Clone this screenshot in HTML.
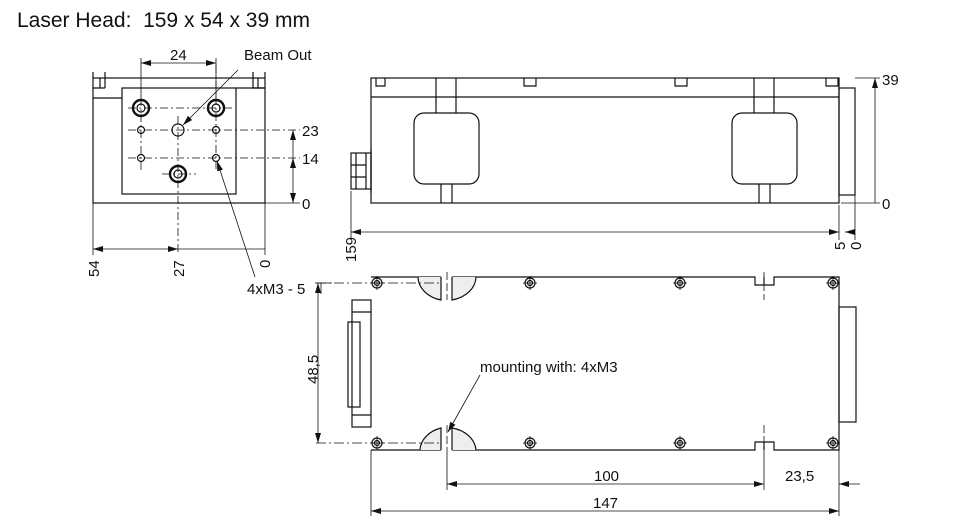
<!DOCTYPE html>
<html><head><style>body{margin:0;background:#fff}svg{display:block}text{font-family:"Liberation Sans",sans-serif;fill:#111;white-space:pre}</style></head>
<body>
<svg width="960" height="531" viewBox="0 0 960 531" xmlns="http://www.w3.org/2000/svg">
<defs>
<marker id="a" viewBox="0 0 10 6" refX="10" refY="3" markerWidth="10" markerHeight="6" orient="auto-start-reverse" markerUnits="userSpaceOnUse"><path d="M0,0L10,3L0,6z" fill="#111"/></marker>
</defs>
<text x="17" y="27" font-size="21" xml:space="preserve">Laser Head:  159 x 54 x 39 mm</text>

<g stroke="#111" fill="none" stroke-width="1.2">
<!-- FRONT VIEW -->
<rect x="93" y="78" width="172" height="125"/>
<path d="M93,72V78M105,72V88M93,88H105M100,78V88M253,72V88M265,72V78M253,88H265M258,78V88"/>
<path d="M93,98H122M236,88H265"/>
<rect x="122" y="88" width="114" height="106"/>
<g stroke-width="2.4"><circle cx="141" cy="108" r="8"/><circle cx="216" cy="108" r="8"/><circle cx="178" cy="174" r="8"/></g>
<circle cx="141" cy="108" r="4"/><circle cx="216" cy="108" r="4"/><circle cx="178" cy="174" r="4"/>
<circle cx="178" cy="130" r="6"/>
<circle cx="141" cy="130" r="3.5"/><circle cx="216" cy="130" r="3.5"/><circle cx="141" cy="158" r="3.5"/><circle cx="216" cy="158" r="3.5"/>
<g stroke-width="0.8" stroke-dasharray="8,3,2,3">
<path d="M128,130H300M128,158H300M128,108H232M162,174H196M141,98V170M216,65V170M178,116V252"/>
</g>
<g stroke-width="0.8">
<path d="M141,58V98M216,58V98"/>
<path d="M141,63H216" marker-start="url(#a)" marker-end="url(#a)"/>
<path d="M238,70L183,125" marker-end="url(#a)"/>
<path d="M265,203H300"/>
<path d="M293,160V130" marker-end="url(#a)"/><path d="M293,203V158" marker-start="url(#a)" marker-end="url(#a)"/>
<path d="M93,203V255M265,203V255"/>
<path d="M93,249H178" marker-start="url(#a)" marker-end="url(#a)"/><path d="M178,249H265"/>
<path d="M255,277L217,161" marker-end="url(#a)"/>
<path d="M315,283H332M321,283V294"/>
</g>

<!-- SIDE VIEW -->
<rect x="371" y="78" width="468" height="125"/>
<path d="M371,97H839"/>
<path d="M376,78V86H385V78M524,78V86H536V78M675,78V86H687V78M826,78V86H838V78"/>
<path d="M436,78V113M456,78V113M441,184V203M452,184V203M754,78V113M774,78V113M759,184V203M770,184V203"/>
<rect x="414" y="113" width="65" height="71" rx="10"/>
<rect x="732" y="113" width="65" height="71" rx="10"/>
<rect x="351" y="153" width="20" height="36"/><path d="M356,153V189M366,153V189M351,165H366M351,177H366M371,149V193"/>
<rect x="839" y="88" width="16" height="107"/>
<g stroke-width="0.8">
<path d="M855,78H880M841,203H880"/>
<path d="M875,203V78" marker-end="url(#a)"/>
<path d="M351,191V240M839,205V240M855,195V240"/>
<path d="M351,232H839" marker-start="url(#a)" marker-end="url(#a)"/>
<path d="M855,232H845" marker-end="url(#a)"/>
</g>

<!-- BOTTOM VIEW -->
<path d="M371,277H441M452,277H755V285H764V277M764,277V285H774V277H839V450H774V442H764V450M764,450V442H755V450H452M441,450H371Z"/>
<path d="M418,277A30,24 0 0 0 441,300V277M452,277V300A30,24 0 0 0 476,277" fill="#eee"/>
<path d="M420,450A30,24 0 0 1 441,428V450M452,450V428A30,24 0 0 1 476,450" fill="#eee"/>
<g>
<circle cx="377" cy="283" r="5"/><circle cx="377" cy="283" r="2.5"/>
<circle cx="530" cy="283" r="5"/><circle cx="530" cy="283" r="2.5"/>
<circle cx="680" cy="283" r="5"/><circle cx="680" cy="283" r="2.5"/>
<circle cx="833" cy="283" r="5"/><circle cx="833" cy="283" r="2.5"/>
<circle cx="377" cy="443" r="5"/><circle cx="377" cy="443" r="2.5"/>
<circle cx="530" cy="443" r="5"/><circle cx="530" cy="443" r="2.5"/>
<circle cx="680" cy="443" r="5"/><circle cx="680" cy="443" r="2.5"/>
<circle cx="833" cy="443" r="5"/><circle cx="833" cy="443" r="2.5"/>
</g>
<rect x="352" y="300" width="19" height="127"/><rect x="348" y="322" width="12" height="85"/>
<path d="M352,312H371M352,415H371"/>
<rect x="839" y="307" width="17" height="115"/>
<g stroke-width="0.8">
<path d="M370,283H384M523,283H537M673,283H687M826,283H840M370,443H384M523,443H537M673,443H687M826,443H840M377,276V290M530,276V290M680,276V290M833,276V290M377,436V450M530,436V450M680,436V450M833,436V450"/>
<path d="M316,283H440M316,443H440" stroke-dasharray="10,3,2,3"/>
<path d="M447,272V300M447,425V455M764,272V300M764,425V455" stroke-dasharray="8,3"/>
<path d="M318,443V283" marker-start="url(#a)" marker-end="url(#a)"/>
<path d="M371,450V516M447,455V490M764,455V490M839,450V516"/>
<path d="M447,484H764" marker-start="url(#a)" marker-end="url(#a)"/>
<path d="M860,484H839" marker-end="url(#a)"/>
<path d="M371,511H839" marker-start="url(#a)" marker-end="url(#a)"/>
<path d="M480,375L448,432" marker-end="url(#a)"/>
</g>
</g>

<g font-size="15">
<text x="170" y="60">24</text>
<text x="244" y="60">Beam Out</text>
<text x="302" y="136">23</text>
<text x="302" y="164">14</text>
<text x="302" y="209">0</text>
<text transform="translate(99,277) rotate(-90)">54</text>
<text transform="translate(184,277) rotate(-90)">27</text>
<text transform="translate(270,268) rotate(-90)">0</text>
<text x="247" y="294">4xM3 - 5</text>
<text x="882" y="85">39</text>
<text x="882" y="209">0</text>
<text transform="translate(356,262) rotate(-90)">159</text>
<text transform="translate(845,250) rotate(-90)">5</text>
<text transform="translate(861,250) rotate(-90)">0</text>
<text transform="translate(318,384) rotate(-90)">48,5</text>
<text x="480" y="372">mounting with: 4xM3</text>
<text x="594" y="481">100</text>
<text x="785" y="481">23,5</text>
<text x="593" y="508">147</text>
</g>
</svg>
</body></html>
